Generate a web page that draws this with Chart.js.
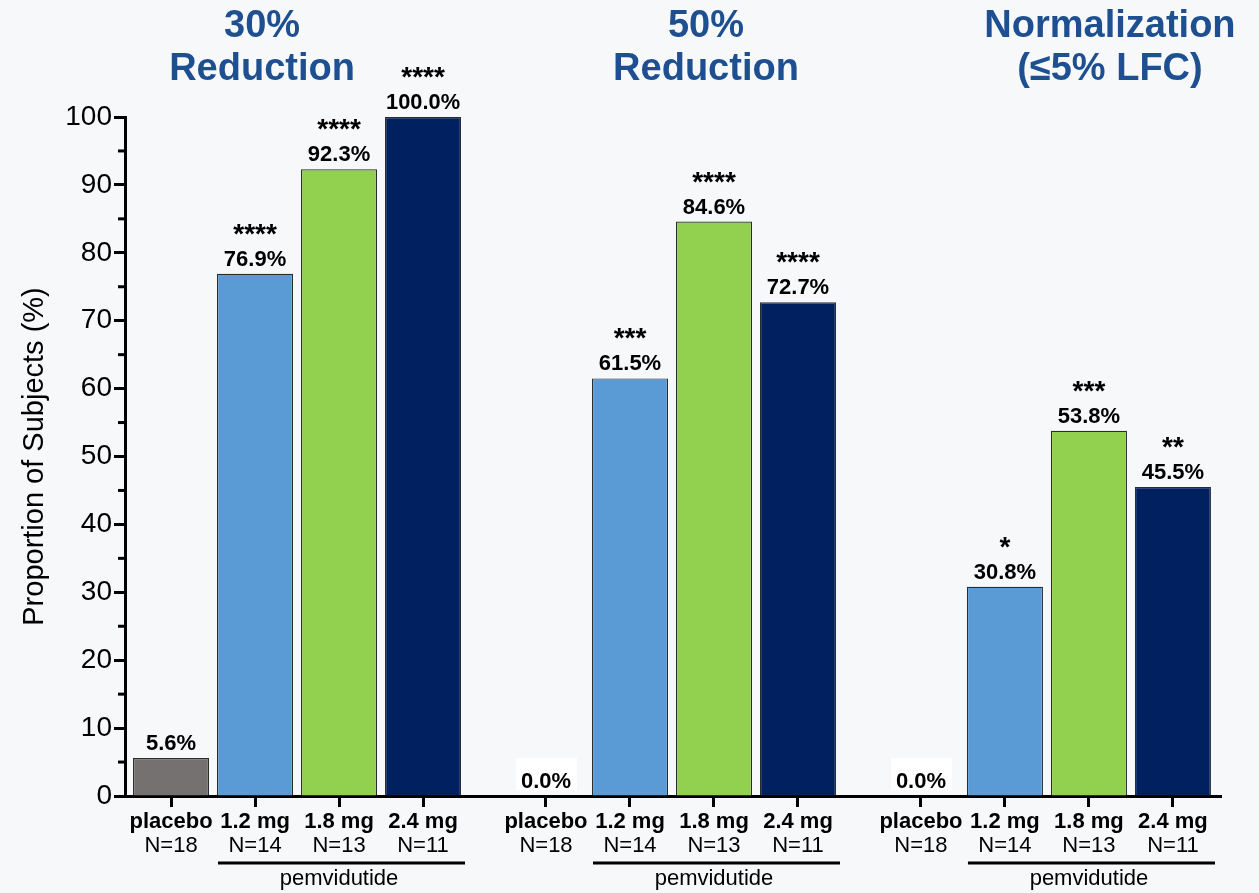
<!DOCTYPE html>
<html>
<head>
<meta charset="utf-8">
<title>Pemvidutide – liver fat response</title>
<script src="https://cdn.jsdelivr.net/npm/chart.js@4.4.1/dist/chart.umd.min.js"></script>
<style>
  html, body { margin: 0; padding: 0; background: #f7f8fa; }
  #wrap { width: 1259px; height: 893px; position: relative; }
</style>
</head>
<body>
<div id="wrap"><canvas id="chart" width="1259" height="893"></canvas></div>
<script>
// ---- data ----
const groupTitles = [
  ['30%', 'Reduction'],
  ['50%', 'Reduction'],
  ['Normalization', '(≤5% LFC)']
];
const doses = ['placebo', '1.2 mg', '1.8 mg', '2.4 mg'];
const sampleSizes = ['N=18', 'N=14', 'N=13', 'N=11'];
const drugName = 'pemvidutide';
const yAxisTitle = 'Proportion of Subjects (%)';

// percent of subjects per group, in dose order
const reduction30 = [5.6, 76.9, 92.3, 100.0];
const reduction50 = [0.0, 61.5, 84.6, 72.7];
const normalization = [0.0, 30.8, 53.8, 45.5];

// significance markers vs placebo
const stars30 = ['', '****', '****', '****'];
const stars50 = ['', '***', '****', '****'];
const starsNorm = ['', '*', '***', '**'];

const yMin = 0, yMax = 100, yMajorStep = 10, yMinorStep = 5;

// ---- styling / layout ----
const doseColors = ['#767171', '#5b9bd5', '#92d050', '#002060'];
const titleColor = '#1d4f91';
const FONT = "'Liberation Sans', Arial, Helvetica, sans-serif";
const GROUP_STRIDE = 4.464;          // slot units between group starts (4 bars + gap)
const TITLE_SHIFT = [-35, 34, 63];   // px offset of each heading from its group centre

const groupValues = [reduction30, reduction50, normalization];
const groupStars = [stars30, stars50, starsNorm];

const slotOf = (g, d) => g * GROUP_STRIDE + d;

const datasets = doses.map((dose, d) => ({
  label: dose,
  data: groupValues.map((vals, g) => ({ x: slotOf(g, d), y: vals[d] })),
  backgroundColor: doseColors[d],
  borderColor: '#2b2b2b',
  borderWidth: 1.2,
  borderSkipped: 'bottom',
  grouped: false,
  categoryPercentage: 1,
  barPercentage: 0.905
}));

const tickPositions = [];
groupValues.forEach((_, g) => doses.forEach((_, d) => tickPositions.push(slotOf(g, d))));

const decorations = {
  id: 'decorations',
  beforeDraw(chart) {
    const c = chart.ctx;
    c.save();
    c.fillStyle = '#f7f8fa';
    c.fillRect(0, 0, chart.width, chart.height);
    c.restore();
  },
  afterDatasetsDraw(chart) {
    const c = chart.ctx;
    const xs = chart.scales.x, ys = chart.scales.y;
    c.save();

    // minor y ticks
    c.strokeStyle = '#000';
    c.lineWidth = 3;
    for (let v = yMin + yMinorStep; v < yMax; v += yMajorStep) {
      const py = ys.getPixelForValue(v);
      c.beginPath();
      c.moveTo(xs.left - 7, py);
      c.lineTo(xs.left, py);
      c.stroke();
    }

    // value and significance labels above bars
    c.textAlign = 'center';
    c.textBaseline = 'alphabetic';
    groupValues.forEach((vals, g) => {
      vals.forEach((v, d) => {
        const bar = chart.getDatasetMeta(d).data[g];
        const top = ys.getPixelForValue(v);
        const txt = v.toFixed(1) + '%';
        c.font = 'bold 22px ' + FONT;
        if (v === 0) {
          c.fillStyle = '#ffffff';
          c.fillRect(bar.x - 30, top - 38, 61, 32);
        }
        c.fillStyle = '#000';
        c.fillText(txt, bar.x, top - 8, bar.width - 2);
        const s = groupStars[g][d];
        if (s) {
          c.font = 'bold 28px ' + FONT;
          c.fillText(s, bar.x, top - 31);
        }
      });
    });

    // category labels under the axis
    const base = ys.bottom;
    groupValues.forEach((_, g) => {
      doses.forEach((dose, d) => {
        const px = xs.getPixelForValue(slotOf(g, d));
        c.fillStyle = '#000';
        c.font = 'bold 22px ' + FONT;
        c.fillText(dose, px, base + 32);
        c.font = '22px ' + FONT;
        c.fillText(sampleSizes[d], px, base + 56);
      });
      // bracket for active-drug doses
      const first = chart.getDatasetMeta(1).data[g];
      const last = chart.getDatasetMeta(3).data[g];
      const x0 = first.x - first.width / 2 + 1;
      const x1 = last.x + last.width / 2 + 4;
      c.lineWidth = 3;
      c.beginPath();
      c.moveTo(x0, base + 67);
      c.lineTo(x1, base + 67);
      c.stroke();
      c.font = '22px ' + FONT;
      c.fillText(drugName, (first.x + last.x) / 2, base + 89);
    });

    // group headings
    c.fillStyle = titleColor;
    c.font = 'bold 38px ' + FONT;
    groupTitles.forEach((lines, g) => {
      const cx = (xs.getPixelForValue(slotOf(g, 0)) + xs.getPixelForValue(slotOf(g, 3))) / 2 + TITLE_SHIFT[g];
      lines.forEach((line, i) => c.fillText(line, cx, 37 + i * 43));
    });

    c.restore();
  }
};

new Chart(document.getElementById('chart'), {
  type: 'bar',
  data: { datasets },
  options: {
    responsive: false,
    animation: false,
    events: [],
    layout: { padding: { top: 117, right: 38, bottom: 0, left: 0 } },
    plugins: { legend: { display: false }, tooltip: { enabled: false } },
    scales: {
      x: {
        type: 'linear',
        offset: false,
        min: -0.548,
        max: 12.5,
        afterBuildTicks: s => { s.ticks = tickPositions.map(v => ({ value: v })); },
        afterFit: s => { s.height = 97; },
        ticks: { display: false },
        grid: { offset: false, drawOnChartArea: false, drawTicks: true, tickLength: 11, tickWidth: 3, tickColor: '#000' },
        border: { display: true, color: '#000', width: 3 }
      },
      y: {
        min: yMin,
        max: yMax,
        afterFit: s => { s.width = 125; },
        ticks: {
          stepSize: yMajorStep,
          color: '#000',
          padding: 2,
          font: { family: FONT, size: 28 }
        },
        grid: { drawOnChartArea: false, drawTicks: true, tickLength: 11, tickWidth: 3, tickColor: '#000' },
        border: { display: true, color: '#000', width: 3 },
        title: {
          display: true,
          text: yAxisTitle,
          color: '#000',
          font: { family: FONT, size: 29 },
          padding: { top: 18, bottom: 0 }
        }
      }
    }
  },
  plugins: [decorations]
});
</script>
</body>
</html>
